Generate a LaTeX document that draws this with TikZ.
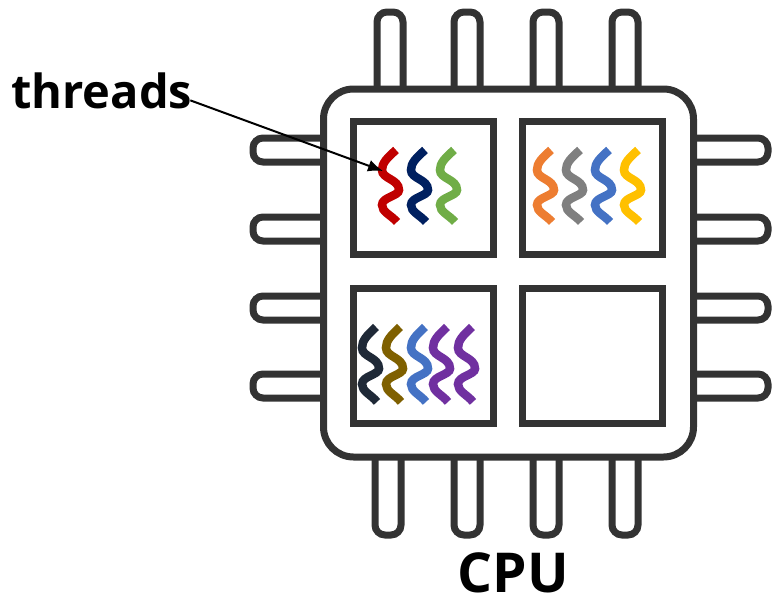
\documentclass[tikz,border=0pt]{standalone}
\usepackage{fontspec}
\setmainfont{Open Sans}
\usetikzlibrary{arrows.meta,positioning}
\definecolor{chipgray}{RGB}{51,51,51}
\definecolor{threadred}{RGB}{192,0,0}
\definecolor{threadnavy}{RGB}{0,32,96}
\definecolor{threadgreen}{RGB}{112,173,71}
\definecolor{threadorange}{RGB}{237,125,49}
\definecolor{threadgray}{RGB}{127,127,127}
\definecolor{threadblue}{RGB}{68,114,196}
\definecolor{threadyellow}{RGB}{255,192,0}
\definecolor{threaddark}{RGB}{31,41,55}
\definecolor{threadbrown}{RGB}{127,96,0}
\definecolor{threadpurple}{RGB}{112,48,160}
\begin{document}
\begin{tikzpicture}[>=Latex,x=1pt,y=-1pt]
\tikzstyle{chip}=[draw=chipgray,line width=7pt,rounded corners=30pt,minimum width=370pt,minimum height=368pt,inner sep=0pt]
\tikzstyle{core}=[draw=chipgray,line width=7pt,minimum width=140pt,minimum height=133pt,inner sep=0pt]
\tikzstyle{leg}=[draw=chipgray,line width=7pt,rounded corners=10pt]
\tikzstyle{label}=[font=\bfseries,inner sep=0pt]
\tikzset{thread/.pic={\draw[line width=8.5pt,pic actions] (13,0) .. controls (4,8) and (-1,13) .. (-1,20) .. controls (-1,29) and (16,29) .. (16,40) .. controls (16,46) and (-1,47) .. (-1,55) .. controls (-1,62) and (8,65) .. (14,72);}}
\useasboundingbox (0,0) rectangle (774,597);
\foreach \x in {390,467,546,625} {
  \draw[leg] (\x-13,90) |- (\x+13,12) -- (\x+13,90);
}
\foreach \x in {388,467,546,625} {
  \draw[leg] (\x-13,456) |- (\x+13,535) -- (\x+13,456);
}
\foreach \y in {150,229,308,386} {
  \draw[leg] (324,\y-12) -| (253,\y+12) -- (324,\y+12);
  \draw[leg] (692,\y-12) -| (768,\y+12) -- (692,\y+12);
}
\node[chip,fill=white] (cpu) at (508.5,273) {};
\node[core] (coreA) at (423.5,188) {};
\node[core] (coreB) at (592.5,188) {};
\node[core,minimum height=135pt] (coreC) at (423.5,356) {};
\node[core,minimum height=135pt] (coreD) at (592.5,356) {};
\node[label,font=\bfseries\fontsize{47pt}{47pt}\selectfont,anchor=base west] (threads) at (11,108) {threads};
\node[label,font=\bfseries\fontsize{55pt}{55pt}\selectfont,anchor=base] (cpulabel) at (513,592) {CPU};
\pic[threadred] at (383,150) {thread};
\pic[threadnavy] at (412,150) {thread};
\pic[threadgreen] at (441,150) {thread};
\pic[threadorange] at (538,150) {thread};
\pic[threadgray] at (567,150) {thread};
\pic[threadblue] at (596,150) {thread};
\pic[threadyellow] at (625,150) {thread};
\pic[threaddark,yscale=1.04] at (363,327) {thread};
\pic[threadbrown,yscale=1.04] at (387,327) {thread};
\pic[threadblue,yscale=1.04] at (412,327) {thread};
\pic[threadpurple,yscale=1.04] at (434,327) {thread};
\pic[threadpurple,yscale=1.04] at (459,327) {thread};
\coordinate (redtip) at (383,171);
\draw[-{Latex[length=15pt,width=12pt]},line width=2pt] ([xshift=-2pt,yshift=-10pt]threads.east) -- (redtip);
\end{tikzpicture}
\end{document}
